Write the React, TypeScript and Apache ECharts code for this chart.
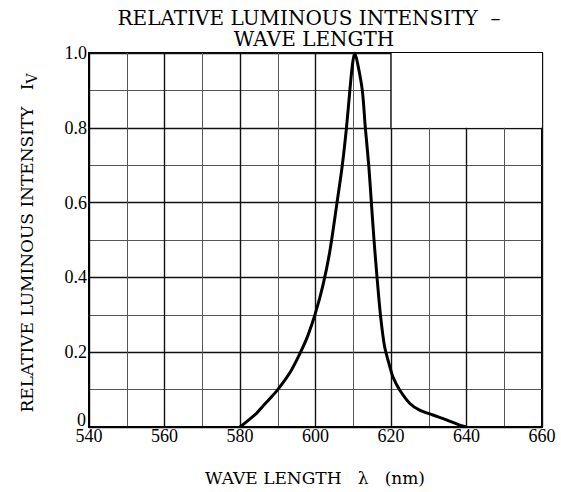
import React, { useEffect, useRef } from "react";
import * as echarts from "echarts";

const wavelengths = [580, 584.3, 586, 588, 590, 593.2, 595.8, 598, 600, 602, 603.8, 605.7, 607.1, 608.2, 609.1, 609.8, 610.4, 611.2, 612.4, 613.2, 614.1, 614.8, 615.5, 616.3, 617.2, 618.3, 619.7, 620.5, 622.3, 625, 627.6, 631.1, 634.7, 638.2, 640];
const intensities = [0, 0.036, 0.055, 0.077, 0.1, 0.145, 0.195, 0.245, 0.305, 0.38, 0.47, 0.6, 0.7, 0.8, 0.9, 0.97, 1.0, 0.97, 0.9, 0.8, 0.7, 0.6, 0.5, 0.4, 0.3, 0.215, 0.161, 0.134, 0.099, 0.063, 0.045, 0.032, 0.019, 0.005, 0];

const xRange = [540, 660];
const yRange = [0, 1.0];
const titleLines = ["RELATIVE LUMINOUS INTENSITY  \u2013", "WAVE LENGTH"];
const xName = "WAVE LENGTH   \u03bb   (nm)";
const yNameMain = "RELATIVE LUMINOUS INTENSITY   I";
const yNameSub = "V";
const cond1 = ["I", "F", " = 20mA"];
const cond2 = "Ta = 25\u00b0C";
const boxArea = [[620, 0.8], [660, 1.0]];
const zeroLabel = "0";

const SERIF = "DejaVu Serif";
const TSERIF = "Liberation Serif";

export default function App() {
  const ref = useRef<HTMLDivElement>(null);
  useEffect(() => {
    if (!ref.current) return;
    const chart = echarts.init(ref.current, null, { renderer: "svg" });
    const data = wavelengths.map((w, i) => [w, intensities[i]]);
    const baseGraphic: any[] = [
      {
        type: "text",
        x: 309,
        y: 18,
        style: { text: titleLines[0], fontFamily: SERIF, fontSize: 20, fill: "#000", align: "center", verticalAlign: "middle" },
      },
      {
        type: "text",
        x: 314,
        y: 39,
        style: { text: titleLines[1], fontFamily: SERIF, fontSize: 20, fill: "#000", align: "center", verticalAlign: "middle" },
      },
      {
        type: "text",
        x: 315,
        y: 478,
        style: { text: xName, fontFamily: SERIF, fontSize: 17, fill: "#000", align: "center", verticalAlign: "middle" },
      },
      {
        type: "text",
        x: 27,
        y: 243,
        rotation: Math.PI / 2,
        style: {
          text: "{m|" + yNameMain + "}{s|" + yNameSub + "}",
          align: "center",
          verticalAlign: "middle",
          rich: {
            m: { fontFamily: SERIF, fontSize: 17, fill: "#000", lineHeight: 24 },
            s: { fontFamily: SERIF, fontSize: 14, fill: "#000", verticalAlign: "bottom", lineHeight: 24 },
          },
        },
      },
      {
        type: "text",
        x: 427,
        y: 81,
        style: {
          text: "{m|" + cond1[0] + "}{s|" + cond1[1] + "}{m|" + cond1[2] + "}",
          align: "left",
          verticalAlign: "middle",
          rich: {
            m: { fontFamily: TSERIF, fontSize: 18, fill: "#000", lineHeight: 22 },
            s: { fontFamily: TSERIF, fontSize: 13, fill: "#000", verticalAlign: "bottom", lineHeight: 22 },
          },
        },
      },
      {
        type: "text",
        x: 427,
        y: 103,
        style: { text: cond2, fontFamily: TSERIF, fontSize: 18, fill: "#000", align: "left", verticalAlign: "middle" },
      },
    ];
    chart.setOption({
      animation: false,
      backgroundColor: "#fff",
      grid: {
        left: 89,
        right: 19,
        top: 53,
        bottom: 65,
        show: true,
        borderColor: "#000",
        borderWidth: 2,
        backgroundColor: "transparent",
      },
      xAxis: {
        type: "value",
        min: xRange[0],
        max: xRange[1],
        interval: 20,
        axisLine: { show: true, lineStyle: { color: "#000", width: 2 } },
        axisTick: { show: false },
        minorTick: { show: false, splitNumber: 2 },
        splitLine: { show: true, lineStyle: { color: "#111", width: 1.4 } },
        minorSplitLine: { show: true, lineStyle: { color: "#555", width: 1 } },
        axisLabel: {
          color: "#000",
          fontFamily: TSERIF,
          fontSize: 18,
          margin: 0,
          showMinLabel: true,
          showMaxLabel: true,
        },
      },
      yAxis: {
        type: "value",
        min: yRange[0],
        max: yRange[1],
        interval: 0.2,
        axisLine: { show: true, lineStyle: { color: "#000", width: 2 } },
        axisTick: { show: false },
        minorTick: { show: false, splitNumber: 2 },
        splitLine: { show: true, lineStyle: { color: "#111", width: 1.4 } },
        minorSplitLine: { show: true, lineStyle: { color: "#555", width: 1 } },
        axisLabel: {
          color: "#000",
          fontFamily: TSERIF,
          fontSize: 18,
          margin: 2,
          showMinLabel: false,
          formatter: (v: number) => v.toFixed(1),
        },
      },
      series: [
        {
          type: "line",
          data,
          showSymbol: false,
          smooth: 0.3,
          z: 4,
          lineStyle: { color: "#000", width: 3 },
          markArea: {
            silent: true,
            itemStyle: { color: "#fff" },
            data: [[{ xAxis: boxArea[0][0], yAxis: boxArea[0][1] }, { xAxis: boxArea[1][0], yAxis: boxArea[1][1] }]],
          },
        },
        {
          type: "line",
          data: [[boxArea[0][0], boxArea[0][1]], [boxArea[0][0], boxArea[1][1]]],
          showSymbol: false,
          silent: true,
          z: 3,
          lineStyle: { color: "#111", width: 1.4 },
        },
      ],
      graphic: baseGraphic,
    });
    const xy = chart.convertToPixel({ gridIndex: 0 }, [xRange[0], yRange[0]]) as number[];
    chart.setOption({
      graphic: baseGraphic.concat([
        {
          type: "text",
          x: xy[0] - 3,
          y: xy[1] + 2,
          style: { text: zeroLabel, fontFamily: TSERIF, fontSize: 18, fill: "#000", align: "right", verticalAlign: "bottom" },
        },
      ]),
    });
    return () => chart.dispose();
  }, []);
  return <div ref={ref} style={{ position: "fixed", left: 0, top: 0, width: 561, height: 492 }} />;
}
